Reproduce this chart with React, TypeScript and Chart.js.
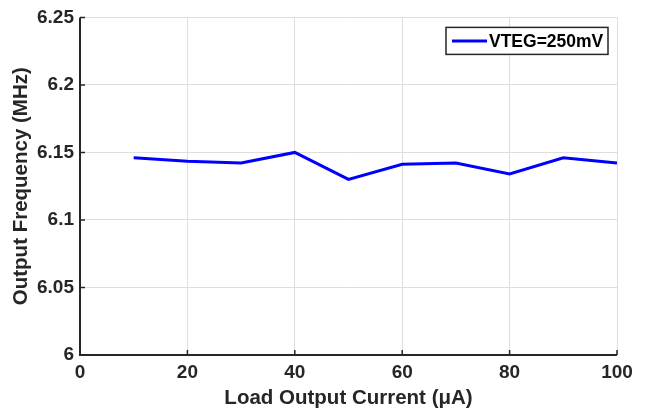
import React, { useEffect, useRef } from "react";
import { Chart, registerables } from "chart.js";

Chart.register(...registerables);

const currents = [10, 20, 30, 40, 50, 60, 70, 80, 90, 100];
const frequencies = [6.146, 6.1435, 6.1422, 6.15, 6.13, 6.1412, 6.1422, 6.1341, 6.1461, 6.1422];
const seriesLabel = "VTEG=250mV";
const xTicks = [0, 20, 40, 60, 80, 100];
const yTicks = [6, 6.05, 6.1, 6.15, 6.2, 6.25];

const FONT = "'Liberation Sans', Arial, Helvetica, sans-serif";
const TEXT = "#262626";

const innerTicks = {
  id: "innerTicks",
  afterDraw(chart: any) {
    const { ctx, chartArea, scales } = chart;
    const { left, right, top, bottom } = chartArea;
    ctx.save();
    ctx.strokeStyle = TEXT;
    ctx.lineWidth = 2;
    ctx.beginPath();
    ctx.moveTo(left, top);
    ctx.lineTo(left, bottom);
    ctx.lineTo(right, bottom);
    ctx.stroke();
    ctx.lineWidth = 1.5;
    ctx.beginPath();
    yTicks.forEach((v) => {
      const y = scales.y.getPixelForValue(v);
      ctx.moveTo(left, y);
      ctx.lineTo(left + 5, y);
    });
    xTicks.forEach((v) => {
      const x = scales.x.getPixelForValue(v);
      ctx.moveTo(x, bottom);
      ctx.lineTo(x, bottom - 5);
    });
    ctx.stroke();

    // legend box
    const bx = right - 171, by = top + 10, bw = 162, bh = 27;
    ctx.fillStyle = "#ffffff";
    ctx.fillRect(bx, by, bw, bh);
    ctx.strokeStyle = "#262626";
    ctx.lineWidth = 1.5;
    ctx.strokeRect(bx, by, bw, bh);
    ctx.strokeStyle = "#0000ff";
    ctx.lineWidth = 3;
    ctx.beginPath();
    ctx.moveTo(bx + 6, by + bh / 2);
    ctx.lineTo(bx + 41, by + bh / 2);
    ctx.stroke();
    ctx.fillStyle = "#000000";
    ctx.font = `bold 17.5px ${FONT}`;
    ctx.textBaseline = "middle";
    ctx.textAlign = "left";
    ctx.fillText(seriesLabel, bx + 43, by + bh / 2 + 1);
    ctx.restore();
  },
};

export default function App() {
  const ref = useRef<HTMLCanvasElement>(null);
  useEffect(() => {
    document.body.style.margin = "0";
    const chart = new Chart(ref.current!, {
      type: "line",
      data: {
        datasets: [
          {
            label: seriesLabel,
            data: currents.map((x, i) => ({ x, y: frequencies[i] })),
            borderColor: "#0000ff",
            borderWidth: 3,
            pointRadius: 0,
            tension: 0,
            fill: false,
          },
        ],
      },
      options: {
        responsive: false,
        animation: false,
        layout: { padding: { top: 16, right: 29, left: 0, bottom: 0 } },
        plugins: { legend: { display: false }, tooltip: { enabled: false } },
        scales: {
          x: {
            type: "linear",
            min: 0,
            max: 100,
            afterBuildTicks: (s: any) => {
              s.ticks = xTicks.map((v) => ({ value: v }));
            },
            afterFit: (s: any) => {
              s.height = 59;
            },
            grid: { color: "#dedede", lineWidth: 1, drawTicks: false },
            border: { display: false },
            ticks: {
              color: TEXT,
              font: { family: FONT, size: 19, weight: "bold" },
              padding: 6,
              maxRotation: 0,
            },
            title: {
              display: true,
              text: "Load Output Current (μA)",
              color: TEXT,
              font: { family: FONT, size: 20.5, weight: "bold" },
              padding: { top: 0, bottom: 3 },
            },
          },
          y: {
            type: "linear",
            min: 6,
            max: 6.25,
            afterBuildTicks: (s: any) => {
              s.ticks = yTicks.map((v) => ({ value: v }));
            },
            afterFit: (s: any) => {
              s.width = 80;
            },
            grid: { color: "#dedede", lineWidth: 1, drawTicks: false },
            border: { display: false },
            ticks: {
              color: TEXT,
              font: { family: FONT, size: 19, weight: "bold" },
              padding: 6,
              callback: (v: any) => String(Number(v)),
            },
            title: {
              display: true,
              text: "Output Frequency (MHz)",
              color: TEXT,
              font: { family: FONT, size: 20.5, weight: "bold" },
              padding: { top: 9, bottom: 0 },
            },
          },
        },
      },
      plugins: [innerTicks],
    });
    return () => chart.destroy();
  }, []);
  return <canvas ref={ref} width={646} height={414} style={{ display: "block" }} />;
}
